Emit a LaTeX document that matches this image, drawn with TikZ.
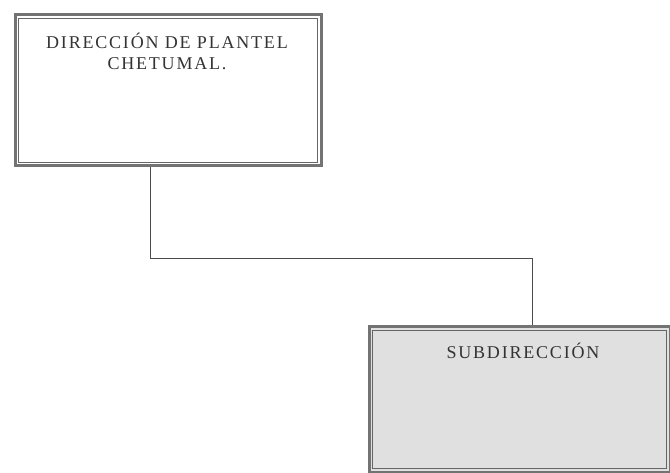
\documentclass[tikz,border=0pt]{standalone}
\usepackage{fontspec}
\setmainfont{Liberation Serif}
\newfontfamily\boxfont[LetterSpace=10]{Liberation Serif}
\begin{document}
\begin{tikzpicture}[x=1pt,y=-1pt,
  orgbox/.style={draw=black!55, line width=3pt, inner sep=0pt, anchor=north west},
  innerline/.style={draw=black!60, line width=0.9pt},
  boxtext/.style={font=\boxfont\fontsize{18}{21}\selectfont, align=center, inner sep=0pt, text=black!80},
  link/.style={draw=black!70, line width=0.9pt}]
\useasboundingbox (0,0) rectangle (670,473);
% box 1
\node[orgbox, fill=white, minimum width=306pt, minimum height=151pt] (dir) at (13.5,13.5) {};
\draw[innerline] ([xshift=5pt,yshift=-5pt]dir.north west) rectangle ([xshift=-5pt,yshift=5pt]dir.south east);
\node[boxtext, anchor=north] (dirtext) at (167,33) {DIRECCIÓN DE PLANTEL\\CHETUMAL.};
% box 2
\node[orgbox, fill=black!12, minimum width=301pt, minimum height=145pt] (sub) at (367.5,325.5) {};
\draw[innerline] ([xshift=5pt,yshift=-5pt]sub.north west) rectangle ([xshift=-5pt,yshift=5pt]sub.south east);
\node[boxtext, anchor=north] (subtext) at (523,343) {SUBDIRECCIÓN};
% connector
\coordinate (c1) at (150,258);
\coordinate (c2) at (532,258);
\draw[link] (dir.south -| c1) -- (c1) -- (c2) -- (sub.north -| c2);
\end{tikzpicture}
\end{document}
